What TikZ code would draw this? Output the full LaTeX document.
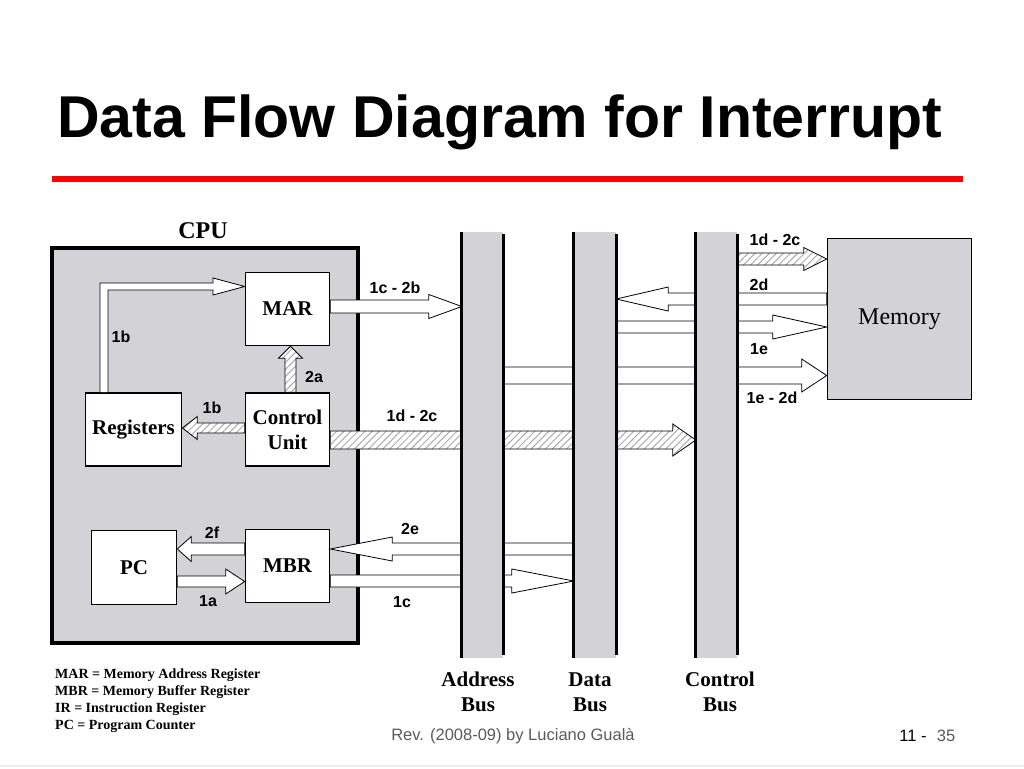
\documentclass[tikz,border=0pt]{standalone}
\usepackage{fontspec}
\setmainfont{Liberation Serif}
\setsansfont{Liberation Sans}
\usetikzlibrary{calc,patterns.meta}
\pgfdeclarelayer{front}
\pgfsetlayers{main,front}
\definecolor{cpugrey}{RGB}{211,211,215}
\definecolor{hatchgrey}{RGB}{172,172,172}
\definecolor{footgrey}{RGB}{90,90,90}
\def\hblock[#1](#2)(#3)#4#5#6{\draw[#1] let \p1=(#2), \p2=(#3), \p3=($(\p2)!#4pt!(\p1)$) in (\x1,\y2+#5pt) -- (\x3,\y2+#5pt) -- (\x3,\y2+#6pt) -- (\x2,\y2) -- (\x3,\y2-#6pt) -- (\x3,\y2-#5pt) -- (\x1,\y2-#5pt) -- cycle;}
\def\vblock[#1](#2)(#3)#4#5#6{\draw[#1] let \p1=(#2), \p2=(#3), \p3=($(\p2)!#4pt!(\p1)$) in (\x2+#5pt,\y1) -- (\x2+#5pt,\y3) -- (\x2+#6pt,\y3) -- (\x2,\y2) -- (\x2-#6pt,\y3) -- (\x2-#5pt,\y3) -- (\x2-#5pt,\y1) -- cycle;}
\tikzset{
  box/.style={draw, line width=1.6pt, fill=white, inner sep=0pt, align=center, minimum width=84pt, minimum height=73pt, font=\bfseries\fontsize{21}{25}\selectfont},
  bus/.style={fill=cpugrey, minimum width=41pt, minimum height=426pt, inner sep=0pt},
  busline/.style={line width=3pt, shorten <=2pt, shorten >=3pt},
  lab/.style={font=\sffamily\bfseries\fontsize{16}{16}\selectfont},
  plain/.style={draw=black, line width=0.8pt, fill=white},
  hatch/.style={draw=black, line width=0.8pt, preaction={fill=white}, preaction={pattern={Lines[angle=45,distance=5pt,line width=1pt]}, pattern color=hatchgrey}},
  buslab/.style={font=\bfseries\fontsize{21}{25}\selectfont, align=center}
}
\begin{document}
\begin{tikzpicture}[x=1pt,y=-1pt]
		\useasboundingbox (0,0) rectangle (1024,768);
		
		%%%%% TITLE %%%%%
		\node[anchor=base west, inner sep=0pt, font=\sffamily\bfseries\fontsize{59}{60}\selectfont] (title) at (57,137) {Data Flow Diagram for Interrupt};
		\fill[red] (52,176) rectangle (963,182);
		
		%%%%% CPU %%%%%
		\node[draw, line width=4pt, fill=cpugrey, minimum width=306pt, minimum height=395pt] (cpu) at (205,445.5) {};
		\node[font=\bfseries\fontsize{24}{24}\selectfont] (cpulab) at (203,231) {CPU};
		
		\node[box] (mar) at (287.5,309) {MAR};
		\node[box] (cu) at (287.5,429.5) {Control\\Unit};
		\node[box, minimum width=96pt] (reg) at (133.5,429.5) {Registers};
		\node[box, minimum width=85pt, minimum height=74pt] (pc) at (134,567.5) {PC};
		\node[box] (mbr) at (287.5,566) {MBR};
		
		\node[draw, line width=1.6pt, fill=cpugrey, minimum width=144pt, minimum height=161pt, font=\fontsize{24}{24}\selectfont] (mem) at (899.5,319) {\raisebox{-3pt}{Memory}};
		
		%%%%% BUSES %%%%%
		\begin{pgfonlayer}{front}
		\node[bus] (abus) at (482.5,445) {};
		\node[bus, minimum width=42pt] (dbus) at (595,445) {};
		\node[bus] (cbus) at (716.5,445) {};
		\foreach \b in {abus,dbus,cbus}
			\draw[busline] (\b.north west) -- (\b.south west) (\b.north east) -- (\b.south east);
		\end{pgfonlayer}
		
		\node[buslab] (abuslab) at (478,692) {Address\\Bus};
		\node[buslab] (dbuslab) at (590,692) {Data\\Bus};
		\node[buslab] (cbuslab) at (720,692) {Control\\Bus};
		
		%%%%% ARROWS %%%%%
		\draw[plain] ($(reg.north)+(-33.5,0)$) -- (100,283) -- (213,283) -- (213,278) -- (mar.west |- 0,286.5) -- (213,295) -- (213,290) -- (108,290) -- ($(reg.north)+(-25.5,0)$);
		
		\coordinate (cutop) at ($(cu.north)+(3,0)$);
		\coordinate (marbot) at ($(mar.south)+(3,0)$);
		\vblock[hatch](cutop)(marbot){12}{5.5}{12}
		\hblock[hatch](cu.west |- 0,428)(reg.east |- 0,428){15}{5}{11.5}
		\hblock[hatch](cu.east |- 0,440)(cbus.west |- 0,440){23}{9}{16}
		
		\hblock[plain](mar.east |- 0,306.5)(abus.west |- 0,306.5){33}{6.5}{12}
		\hblock[plain](mbr.west |- 0,549)(pc.east |- 0,549){14}{6}{12.5}
		\hblock[plain](pc.east |- 0,581.5)(mbr.west |- 0,581.5){19}{5.5}{12.5}
		\hblock[plain](dbus.west |- 0,549)(mbr.east |- 0,549){62}{6}{12}
		\hblock[plain](mbr.east |- 0,581)(dbus.west |- 0,581){62}{6}{12}
		
		\hblock[hatch](cbus.east |- 0,259)(mem.west |- 0,259){23}{6}{11.5}
		\hblock[plain](mem.west |- 0,299)(dbus.east |- 0,299){52}{6}{12}
		\hblock[plain](dbus.east |- 0,327)(mem.west |- 0,327){54}{6}{12}
		\hblock[plain](abus.east |- 0,375.5)(mem.west |- 0,375.5){25}{8.5}{16.5}
		
		%%%%% LABELS %%%%%
		\node[lab] (l1c2b) at (395,288) {1c - 2b};
		\node[lab] (l1b) at (121,337) {1b};
		\node[lab] (l2a) at (314,377) {2a};
		\node[lab] (l1bb) at (212,408) {1b};
		\node[lab] (l1d2c) at (412,416) {1d - 2c};
		\node[lab] (l1d2cm) at (775,239.5) {1d - 2c};
		\node[lab] (l2d) at (759,285) {2d};
		\node[lab] (l1e) at (759,349) {1e};
		\node[lab] (l1e2d) at (772,398) {1e - 2d};
		\node[lab] (l2e) at (410,529) {2e};
		\node[lab] (l1c) at (402,602) {1c};
		\node[lab] (l2f) at (212,533) {2f};
		\node[lab] (l1a) at (208,601) {1a};
		
		%%%%% LEGEND AND FOOTER %%%%%
		\node[anchor=north west, align=left, inner sep=0pt, font=\bfseries\fontsize{14}{17}\selectfont] (legend) at (55,669) {MAR = Memory Address Register\\MBR = Memory Buffer Register\\IR = Instruction Register\\PC = Program Counter};
		
		\node[font=\sffamily\fontsize{16.5}{17}\selectfont, text=footgrey] (rev) at (513,736) {Rev. (2008-09) by Luciano Gualà};
		\node[font=\sffamily\fontsize{16.5}{17}\selectfont] (chap) at (913,736) {11 -};
		\node[font=\sffamily\fontsize{16.5}{17}\selectfont, text=footgrey] (pg) at (946,736) {35};
		\draw[gray!15, line width=2pt] (0,766) -- (1024,766);
	\end{tikzpicture}
\end{document}
